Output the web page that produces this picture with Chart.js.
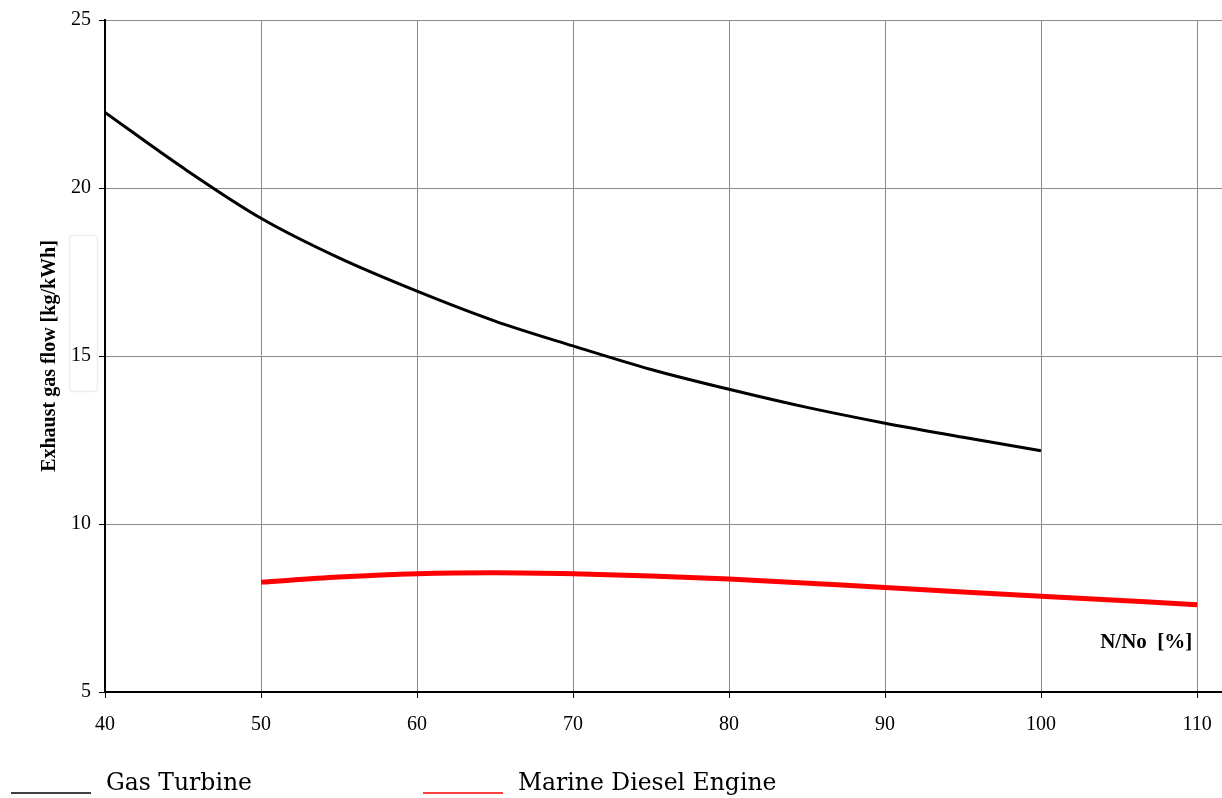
<!DOCTYPE html>
<html>
<head>
<meta charset="utf-8">
<script src="https://cdn.jsdelivr.net/npm/chart.js@4/dist/chart.umd.min.js"></script>
<style>
  body { margin: 0; background: #fff; width: 1222px; height: 798px; overflow: hidden; }
  #wrap { position: relative; width: 1222px; height: 798px; }
</style>
</head>
<body>
<div id="wrap"><canvas id="chart"></canvas></div>
<script>
// --- datos ---
const gasLoad = [40, 45, 50, 55, 60, 65, 70, 75, 80, 85, 90, 95, 100];
const gasFlow = [22.25, 20.6, 19.1, 17.92, 16.93, 16.04, 15.3, 14.6, 14.01, 13.47, 13.0, 12.58, 12.18];

const dieselLoad = [50, 55, 60, 65, 70, 75, 80, 90, 100, 110];
const dieselFlow = [8.27, 8.42, 8.52, 8.55, 8.52, 8.45, 8.36, 8.11, 7.85, 7.6];

const xTicks = [40, 50, 60, 70, 80, 90, 100, 110];
const yTicks = [5, 10, 15, 20, 25];

const serif = '"Liberation Serif", serif';
const legendFont = '23.5px "DejaVu Serif", serif';

function toPoints(xs, ys) {
    return xs.map((x, i) => ({ x: x, y: ys[i] }));
}

// texto "N/No [%]", leyenda inferior y el recuadro tenue junto al eje
const extras = {
    id: 'extras',
    afterDraw(chart) {
        const ctx = chart.ctx;
        const xs = chart.scales.x;
        const ys = chart.scales.y;
        ctx.save();
        ctx.font = 'bold 21px ' + serif;
        ctx.fillStyle = '#000';
        ctx.textAlign = 'right';
        ctx.textBaseline = 'alphabetic';
        ctx.fillText('N/No  [%]', xs.getPixelForValue(109.7), ys.getPixelForValue(6.3));

        ctx.strokeStyle = '#eeeeee';
        ctx.lineWidth = 1.5;
        ctx.beginPath();
        ctx.roundRect(69.5, 235.5, 28, 156, 3);
        ctx.stroke();

        // leyenda: linea + texto
        const items = [
            { x: 11, color: '#000', text: chart.data.datasets[0].label },
            { x: 423, color: '#ff0000', text: chart.data.datasets[1].label }
        ];
        ctx.font = legendFont;
        ctx.textAlign = 'left';
        items.forEach(it => {
            ctx.strokeStyle = it.color;
            ctx.lineWidth = 1.6;
            ctx.beginPath();
            ctx.moveTo(it.x, 793);
            ctx.lineTo(it.x + 80, 793);
            ctx.stroke();
            ctx.fillStyle = '#000';
            ctx.fillText(it.text, it.x + 95, 790);
        });
        ctx.restore();
    }
};

new Chart(document.getElementById('chart'), {
    type: 'line',
    data: {
        datasets: [
            {
                label: 'Gas Turbine',
                data: toPoints(gasLoad, gasFlow),
                borderColor: '#000',
                borderWidth: 3,
                pointRadius: 0,
                cubicInterpolationMode: 'monotone',
                fill: false
            },
            {
                label: 'Marine Diesel Engine',
                data: toPoints(dieselLoad, dieselFlow),
                borderColor: '#ff0000',
                borderWidth: 5,
                pointRadius: 0,
                cubicInterpolationMode: 'monotone',
                fill: false
            }
        ]
    },
    options: {
        responsive: true,
        maintainAspectRatio: false,
        animation: false,
        layout: { padding: { top: 18, right: 0, left: 0, bottom: 0 } },
        plugins: { legend: { display: false }, tooltip: { enabled: false } },
        scales: {
            x: {
                type: 'linear',
                min: 40,
                max: 111.6,
                afterBuildTicks: s => { s.ticks = xTicks.map(v => ({ value: v })); },
                afterFit: s => { s.height = 106; s.paddingRight = 0; },
                grid: { color: '#8a8a8a', lineWidth: 1, tickLength: 6, tickColor: '#000' },
                border: { color: '#000', width: 2 },
                ticks: { font: { family: serif, size: 20 }, color: '#000', padding: 15, maxRotation: 0 }
            },
            y: {
                min: 5,
                max: 25,
                afterBuildTicks: s => { s.ticks = yTicks.map(v => ({ value: v })); },
                afterFit: s => { s.width = 105; },
                grid: { color: '#8a8a8a', lineWidth: 1, tickLength: 6, tickColor: '#000' },
                border: { color: '#000', width: 2 },
                title: { display: true, text: 'Exhaust gas flow [kg/kWh]', font: { family: serif, size: 20, weight: 'bold' }, color: '#000', padding: { top: 38, bottom: 0 } },
                ticks: { font: { family: serif, size: 20 }, color: '#000', padding: 8 }
            }
        }
    },
    plugins: [extras]
});
</script>
</body>
</html>
